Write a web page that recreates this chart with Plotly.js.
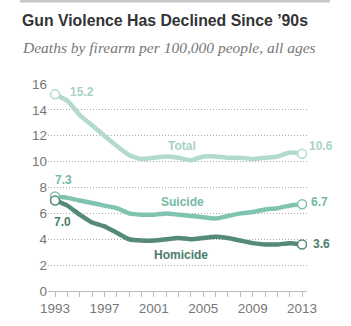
<!DOCTYPE html>
<html>
<head>
<meta charset="utf-8">
<script src="https://cdn.plot.ly/plotly-3.0.1.min.js"></script>
<style>
  html, body { margin: 0; padding: 0; background: #fff; }
  #chart { width: 351px; height: 326px; }
</style>
</head>
<body>
<div id="chart"></div>
<script>
const years = [1993,1994,1995,1996,1997,1998,1999,2000,2001,2002,2003,2004,2005,2006,2007,2008,2009,2010,2011,2012,2013];
const total    = [15.2,14.7,13.6,12.8,12.0,11.2,10.5,10.2,10.3,10.4,10.3,10.1,10.4,10.4,10.3,10.3,10.2,10.3,10.4,10.7,10.6];
const suicide  = [7.3,7.2,7.0,6.8,6.6,6.4,6.0,5.9,5.9,6.0,5.9,5.8,5.7,5.6,5.8,6.0,6.1,6.3,6.4,6.6,6.7];
const homicide = [7.0,6.6,5.9,5.3,5.0,4.5,4.0,3.9,3.9,4.0,4.1,4.0,4.1,4.2,4.1,3.9,3.7,3.6,3.6,3.7,3.6];
const seriesNames = ['Total','Suicide','Homicide'];
const xTickVals = [1993,1997,2001,2005,2009,2013];
const yTickVals = [0,2,4,6,8,10,12,14,16];

const colors = { Total: '#b3dacf', Suicide: '#7fc3b0', Homicide: '#568a78' };
const textColors = { Total: '#a9d2c6', Suicide: '#74b9a6', Homicide: '#4a7c6a' };
const data = { Total: total, Suicide: suicide, Homicide: homicide };
const widths = { Total: 4.5, Suicide: 4.5, Homicide: 4.5 };

const traces = [];
seriesNames.forEach(n => {
  const v = data[n];
  traces.push({
    x: years, y: v, type: 'scatter', mode: 'lines',
    line: { color: colors[n], width: widths[n], shape: 'spline', smoothing: 0.5 },
    hoverinfo: 'skip', showlegend: false
  });
});
seriesNames.forEach(n => {
  const v = data[n];
  traces.push({
    x: [years[0], years[years.length-1]], y: [v[0], v[v.length-1]],
    type: 'scatter', mode: 'markers',
    marker: { color: '#fff', size: 9, line: { color: colors[n], width: 1.5 } },
    hoverinfo: 'skip', showlegend: false
  });
});

const last = years.length - 1;
const lblFont = (n) => ({ family: 'Liberation Sans, Arial, sans-serif', size: 12, color: textColors[n] });

const ann = [
  { x: 1993, y: total[0], text: '<b>' + total[0].toFixed(1) + '</b>', xanchor: 'left', yanchor: 'middle', xshift: 13, yshift: 2, font: lblFont('Total') },
  { x: 2013, y: total[last], text: '<b>' + total[last].toFixed(1) + '</b>', xanchor: 'left', yanchor: 'middle', xshift: 5, yshift: 8, font: lblFont('Total') },
  { x: 1993, y: suicide[0], text: '<b>' + suicide[0].toFixed(1) + '</b>', xanchor: 'left', yanchor: 'middle', xshift: -2, yshift: 17, font: lblFont('Suicide') },
  { x: 2013, y: suicide[last], text: '<b>' + suicide[last].toFixed(1) + '</b>', xanchor: 'left', yanchor: 'middle', xshift: 7, yshift: 2, font: lblFont('Suicide') },
  { x: 1993, y: homicide[0], text: '<b>' + homicide[0].toFixed(1) + '</b>', xanchor: 'left', yanchor: 'middle', xshift: -3, yshift: -22, font: lblFont('Homicide') },
  { x: 2013, y: homicide[last], text: '<b>' + homicide[last].toFixed(1) + '</b>', xanchor: 'left', yanchor: 'middle', xshift: 9, yshift: 0, font: lblFont('Homicide') },
  { x: 2003.3, y: 11.2, text: '<b>Total</b>', xanchor: 'center', yanchor: 'middle', font: lblFont('Total') },
  { x: 2003.3, y: 6.9, text: '<b>Suicide</b>', xanchor: 'center', yanchor: 'middle', font: lblFont('Suicide') },
  { x: 2003.2, y: 2.78, text: '<b>Homicide</b>', xanchor: 'center', yanchor: 'middle', font: lblFont('Homicide') }
].map(a => Object.assign({ xref: 'x', yref: 'y', showarrow: false }, a));

// Title & subtitle (paper coords; plot area px 48..307 x, 84..291 y)
const px = X => (X - 48) / 259;
const py = Y => (291 - Y) / 207;
ann.push({
  xref: 'paper', yref: 'paper', x: px(20), y: py(21), xanchor: 'left', yanchor: 'middle', showarrow: false,
  text: '<b>Gun Violence Has Declined Since ’90s</b>',
  font: { family: 'Liberation Sans, Arial, sans-serif', size: 15.8, color: '#333' }
});
ann.push({
  xref: 'paper', yref: 'paper', x: px(20), y: py(48), xanchor: 'left', yanchor: 'middle', showarrow: false,
  text: '<i>Deaths by firearm per 100,000 people, all ages</i>',
  font: { family: 'Liberation Serif, Georgia, serif', size: 15.5, color: '#777' }
});
// top rule drawn as a filled annotation box
ann.push({
  xref: 'paper', yref: 'paper', x: px(20), y: py(1), xanchor: 'left', yanchor: 'middle', showarrow: false,
  text: ' ', width: 310, height: 2, bgcolor: '#c8c8c8', borderpad: 0, borderwidth: 0,
  font: { size: 1, color: '#c8c8c8' }
});

const layout = {
  width: 351, height: 326,
  margin: { l: 48, r: 44, t: 84, b: 35, pad: 0 },
  paper_bgcolor: '#fff', plot_bgcolor: '#fff',
  showlegend: false,
  xaxis: {
    range: [1992.43, 2013.4], tickvals: xTickVals, ticktext: xTickVals.map(String),
    ticks: 'outside', ticklen: 5, tickcolor: '#bbb', tickwidth: 1,
    minor: { tickvals: years, ticks: 'outside', ticklen: 5, tickcolor: '#bbb', tickwidth: 1, showgrid: false },
    showline: true, linecolor: '#bbb', linewidth: 1,
    showgrid: false, zeroline: false,
    tickfont: { family: 'Liberation Sans, Arial, sans-serif', size: 13.5, color: '#777' },
    fixedrange: true
  },
  yaxis: {
    range: [0, 16], tickvals: yTickVals, ticktext: yTickVals.map(String),
    ticks: '', showgrid: true, gridcolor: '#aaa', griddash: '1px,2px', gridwidth: 1,
    zeroline: false, showline: false,
    tickfont: { family: 'Liberation Sans, Arial, sans-serif', size: 13.5, color: '#777' },
    fixedrange: true
  },
  shapes: [
    { type: 'line', layer: 'above', xref: 'paper', yref: 'paper', x0: px(20), x1: px(330), y0: py(1.5), y1: py(1.5), line: { color: '#c8c8c8', width: 2 } }
  ],
  annotations: ann
};

Plotly.newPlot('chart', traces, layout, { displayModeBar: false, staticPlot: true });
</script>
</body>
</html>
